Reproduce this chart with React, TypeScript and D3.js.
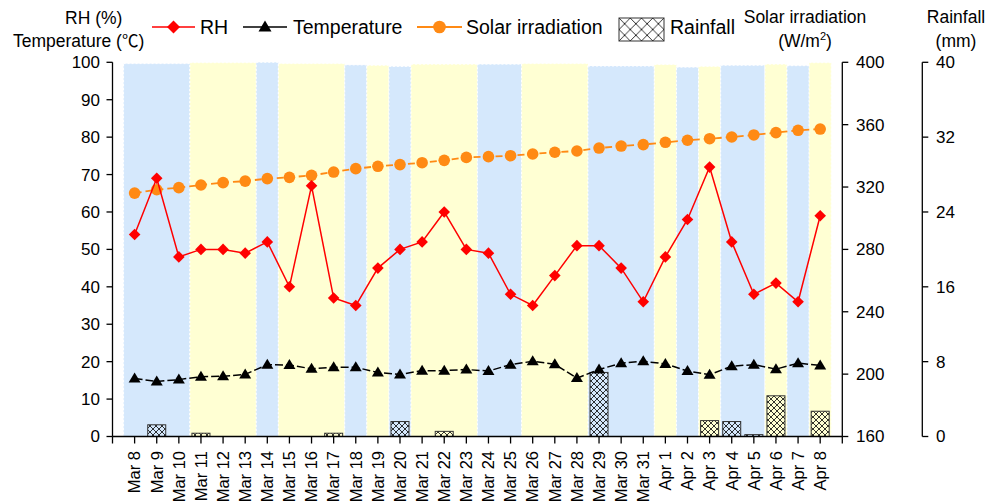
import React from "react";
import * as d3 from "d3";

const dates = [
  "Mar 8", "Mar 9", "Mar 10", "Mar 11", "Mar 12", "Mar 13", "Mar 14", "Mar 15",
  "Mar 16", "Mar 17", "Mar 18", "Mar 19", "Mar 20", "Mar 21", "Mar 22", "Mar 23",
  "Mar 24", "Mar 25", "Mar 26", "Mar 27", "Mar 28", "Mar 29", "Mar 30", "Mar 31",
  "Apr 1", "Apr 2", "Apr 3", "Apr 4", "Apr 5", "Apr 6", "Apr 7", "Apr 8",
];
const rh = [54, 69, 48, 50, 50, 49, 52, 40, 67, 37, 35, 45, 50, 52, 60, 50, 49, 38, 35, 43, 51, 51, 45, 36, 48, 58, 72, 52, 38, 41, 36, 59];
const temperature = [15.5, 14.7, 15.2, 16.0, 16.1, 16.6, 19.2, 19.1, 18.1, 18.5, 18.5, 17.1, 16.6, 17.6, 17.6, 17.9, 17.5, 19.2, 20.1, 19.3, 15.6, 17.9, 19.6, 20.1, 19.4, 17.5, 16.5, 18.8, 19.2, 18.0, 19.6, 19.0];
const solar = [316.1, 318.3, 319.6, 321.3, 322.8, 323.8, 325.4, 326.2, 327.5, 329.6, 331.8, 333.3, 334.4, 335.6, 337.1, 339.0, 339.5, 340.1, 341.2, 342.3, 343.1, 345.0, 346.3, 347.2, 348.7, 350.0, 351.0, 352.1, 353.4, 354.9, 356.4, 357.2];
const rainfall = [0, 1.25, 0, 0.35, 0, 0, 0, 0, 0, 0.35, 0, 0, 1.6, 0, 0.55, 0, 0, 0, 0, 0, 0, 6.85, 0, 0, 0, 0, 1.7, 1.6, 0.2, 4.35, 0, 2.7];

// background day-type bands: first index, last index, kind, top value (left axis)
const bandFrom = [0, 3, 6, 7, 10, 11, 12, 13, 16, 18, 21, 24, 25, 26, 27, 29, 30, 31];
const bandTo = [2, 5, 6, 9, 10, 11, 12, 15, 17, 20, 23, 24, 25, 26, 28, 29, 30, 31];
const bandKind = ["b", "y", "b", "y", "b", "y", "b", "y", "b", "y", "b", "y", "b", "y", "b", "y", "b", "y"];
const bandTop = [99.65, 99.9, 100, 99.65, 99.3, 99.2, 98.9, 99.5, 99.5, 99.65, 99.0, 99.4, 98.7, 98.9, 99.2, 99.5, 99.1, 99.9];

const leftTicks = d3.range(0, 101, 10);
const solarTicks = d3.range(160, 401, 40);
const rainTicks = d3.range(0, 41, 8);

const FONT = "'Liberation Sans', Arial, 'Noto Sans CJK SC', sans-serif";
const CJK = "'Noto Sans CJK SC', sans-serif";
const ORANGE = "#FF8A14";
const BLUE = "#D5E8FC";
const YELLOW = "#FFFFD3";

export default function App() {
  const x = d3.scaleLinear().domain([-1, dates.length]).range([112.5, 842.3]);
  const yL = d3.scaleLinear().domain([0, 100]).range([436.5, 62.3]);
  const yS = d3.scaleLinear().domain([160, 400]).range([436.5, 62.3]);
  const yR = d3.scaleLinear().domain([0, 40]).range([436.5, 62.3]);
  const step = x(1) - x(0);
  const barW = 18;

  const rhLine = d3.line<number>().x((_, i) => x(i)).y((d) => yL(d))(rh) || "";
  const tLine = d3.line<number>().x((_, i) => x(i)).y((d) => yL(d))(temperature) || "";
  const sLine = d3.line<number>().x((_, i) => x(i)).y((d) => yS(d))(solar) || "";

  const diamond = (cx: number, cy: number, r: number) =>
    `M${cx},${cy - r}L${cx + r},${cy}L${cx},${cy + r}L${cx - r},${cy}Z`;
  const tri = (cx: number, cy: number, w: number, h: number) =>
    `M${cx},${cy - h * 0.6}L${cx + w / 2},${cy + h * 0.4}L${cx - w / 2},${cy + h * 0.4}Z`;

  const x0 = x.range()[0];
  const x1 = x.range()[1];
  const xr = 922.3;

  return (
    <svg width={990} height={504} style={{ position: "fixed", left: 0, top: 0, background: "#fff" }} fontFamily={FONT}>
      <defs>
        <pattern id="hatch" width={6} height={6} patternUnits="userSpaceOnUse">
          <path d="M0,0L6,6M6,0L0,6M-1,5L1,7M5,-1L7,1" stroke="#000" strokeWidth={0.8} fill="none" />
        </pattern>
        <pattern id="hatchL" width={11.25} height={11.5} patternUnits="userSpaceOnUse" x={619} y={18}>
          <path d="M0,0L11.25,11.5M11.25,0L0,11.5" stroke="#000" strokeWidth={0.8} fill="none" />
        </pattern>
      </defs>

      {/* background bands */}
      {bandFrom.map((f, k) => (
        <rect
          key={"band" + k}
          x={x(f) - step / 2}
          y={yL(bandTop[k])}
          width={(bandTo[k] - f + 1) * step}
          height={yL(0) - yL(bandTop[k])}
          fill={bandKind[k] === "b" ? BLUE : YELLOW}
          stroke="#fff"
          strokeWidth={1}
          strokeDasharray="2,2"
        />
      ))}

      {/* rainfall bars */}
      {rainfall.map((v, i) =>
        v > 0 ? (
          <g key={"bar" + i}>
            <rect x={x(i) - barW / 2} y={yR(v)} width={barW} height={yR(0) - yR(v)} fill="url(#hatch)" stroke="#333" strokeWidth={1} />
          </g>
        ) : null
      )}

      {/* solar line */}
      <path d={sLine} fill="none" stroke={ORANGE} strokeWidth={1.8} strokeDasharray="7,4" />
      {solar.map((v, i) => (
        <circle key={"s" + i} cx={x(i)} cy={yS(v)} r={5.8} fill={ORANGE} />
      ))}

      {/* temperature line */}
      <path d={tLine} fill="none" stroke="#000" strokeWidth={1.5} strokeDasharray="8,3" />
      {temperature.map((v, i) => (
        <path key={"t" + i} d={tri(x(i), yL(v), 12, 10)} fill="#000" />
      ))}

      {/* RH line */}
      <path d={rhLine} fill="none" stroke="#FF0000" strokeWidth={1.5} />
      {rh.map((v, i) => (
        <path key={"r" + i} d={diamond(x(i), yL(v), 5.8)} fill="#FF0000" />
      ))}

      {/* left axis */}
      <line x1={x0} x2={x0} y1={yL(100)} y2={yL(0)} stroke="#000" strokeWidth={1.3} />
      {leftTicks.map((t) => (
        <g key={"lt" + t}>
          <line x1={x0 - 6} x2={x0} y1={yL(t)} y2={yL(t)} stroke="#000" strokeWidth={1.3} />
          <text x={100} y={yL(t)} dy="0.35em" textAnchor="end" fontSize={17}>{t}</text>
        </g>
      ))}

      {/* solar axis */}
      <line x1={x1} x2={x1} y1={yS(400)} y2={yS(160)} stroke="#000" strokeWidth={1.3} />
      {solarTicks.map((t) => (
        <g key={"st" + t}>
          <line x1={x1} x2={x1 + 6} y1={yS(t)} y2={yS(t)} stroke="#000" strokeWidth={1.3} />
          <text x={856} y={yS(t)} dy="0.35em" textAnchor="start" fontSize={17}>{t}</text>
        </g>
      ))}

      {/* rainfall axis */}
      <line x1={xr} x2={xr} y1={yR(40)} y2={yR(0)} stroke="#000" strokeWidth={1.3} />
      {rainTicks.map((t) => (
        <g key={"rt" + t}>
          <line x1={xr} x2={xr + 6} y1={yR(t)} y2={yR(t)} stroke="#000" strokeWidth={1.3} />
          <text x={936} y={yR(t)} dy="0.35em" textAnchor="start" fontSize={17}>{t}</text>
        </g>
      ))}

      {/* x axis */}
      <line x1={x0} x2={x1} y1={yL(0)} y2={yL(0)} stroke="#000" strokeWidth={1.3} />
      {[-1, ...dates.map((_, i) => i), dates.length].map((i) => (
        <line key={"xt" + i} x1={x(i)} x2={x(i)} y1={yL(0)} y2={yL(0) + 7} stroke="#000" strokeWidth={1.3} />
      ))}
      {dates.map((d, i) => (
        <text
          key={"xl" + i}
          transform={`translate(${x(i)},${451}) rotate(-90)`}
          dy="0.35em"
          textAnchor="end"
          fontSize={16.5}
        >
          {d}
        </text>
      ))}

      {/* axis titles */}
      <text x={65} y={24} fontSize={17.5}>RH (%)</text>
      <text x={13} y={47} fontSize={17.5}>
        Temperature (<tspan fontFamily={CJK} fontSize={16.5}>℃</tspan>)
      </text>
      <text x={805} y={23} fontSize={17.5} textAnchor="middle">Solar irradiation</text>
      <text x={805} y={47} fontSize={17.5} textAnchor="middle">
        (W/m<tspan fontSize={11} dy={-7}>2</tspan><tspan dy={7}>)</tspan>
      </text>
      <text x={956} y={23} fontSize={17.5} textAnchor="middle">Rainfall</text>
      <text x={956} y={47} fontSize={17.5} textAnchor="middle">(mm)</text>

      {/* legend */}
      <line x1={152} x2={195} y1={27} y2={27} stroke="#FF0000" strokeWidth={1.5} />
      <path d={diamond(173.5, 27, 6.5)} fill="#FF0000" />
      <text x={200} y={34} fontSize={19.5}>RH</text>

      <line x1={243} x2={287} y1={27} y2={27} stroke="#000" strokeWidth={1.5} />
      <path d={tri(265, 27, 13, 11)} fill="#000" />
      <text x={293} y={34} fontSize={19.5}>Temperature</text>

      <line x1={417} x2={462} y1={27} y2={27} stroke={ORANGE} strokeWidth={1.8} />
      <circle cx={439.5} cy={27} r={6.3} fill={ORANGE} />
      <text x={466} y={34} fontSize={19.5}>Solar irradiation</text>

      <rect x={619} y={18} width={45} height={23} fill="url(#hatchL)" stroke="#333" strokeWidth={1} />
      <text x={670} y={34} fontSize={19.5}>Rainfall</text>
    </svg>
  );
}
